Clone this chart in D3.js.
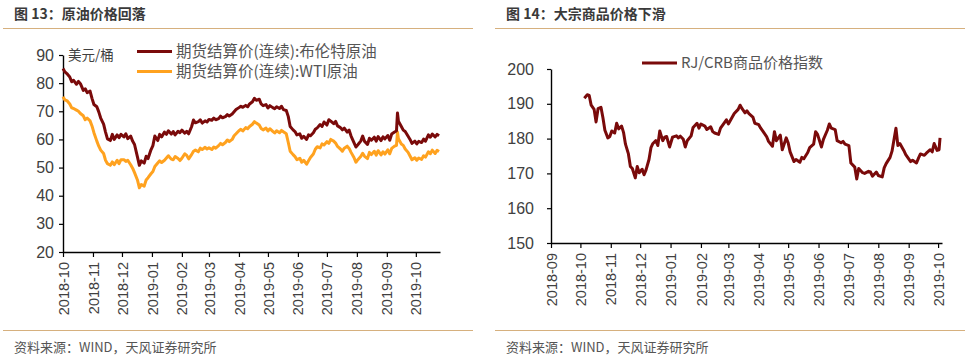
<!DOCTYPE html>
<html><head><meta charset="utf-8">
<script src="https://cdn.jsdelivr.net/npm/d3@7"></script>
<style>
body{margin:0;background:#fff;}
svg{display:block;font-family:"Liberation Sans",Arial,"Noto Sans CJK SC",sans-serif;}
</style>
</head><body>
<svg id="c" width="970" height="361"></svg>
<script>
// ---------- Chart 13 data: crude oil ----------
const oilDates = [
 "2018-10-01","2018-10-03","2018-10-05","2018-10-08","2018-10-10","2018-10-12","2018-10-15","2018-10-17","2018-10-19","2018-10-22","2018-10-24","2018-10-26","2018-10-29","2018-10-31",
 "2018-11-02","2018-11-05","2018-11-07","2018-11-09","2018-11-12","2018-11-14","2018-11-16","2018-11-19","2018-11-21","2018-11-23","2018-11-26","2018-11-28","2018-11-30",
 "2018-12-03","2018-12-05","2018-12-07","2018-12-10","2018-12-12","2018-12-14","2018-12-17","2018-12-19","2018-12-21","2018-12-24","2018-12-26","2018-12-28","2018-12-31",
 "2019-01-02","2019-01-04","2019-01-07","2019-01-09","2019-01-11","2019-01-14","2019-01-16","2019-01-18","2019-01-21","2019-01-23","2019-01-25","2019-01-28","2019-01-30",
 "2019-02-01","2019-02-04","2019-02-06","2019-02-08","2019-02-11","2019-02-13","2019-02-15","2019-02-18","2019-02-20","2019-02-22","2019-02-25","2019-02-27",
 "2019-03-01","2019-03-04","2019-03-06","2019-03-08","2019-03-11","2019-03-13","2019-03-15","2019-03-18","2019-03-20","2019-03-22","2019-03-25","2019-03-27","2019-03-29",
 "2019-04-01","2019-04-03","2019-04-05","2019-04-08","2019-04-10","2019-04-12","2019-04-15","2019-04-17","2019-04-19","2019-04-22","2019-04-24","2019-04-26","2019-04-29",
 "2019-05-01","2019-05-03","2019-05-06","2019-05-08","2019-05-10","2019-05-13","2019-05-15","2019-05-17","2019-05-20","2019-05-22","2019-05-24","2019-05-27","2019-05-29","2019-05-31",
 "2019-06-03","2019-06-05","2019-06-07","2019-06-10","2019-06-12","2019-06-14","2019-06-17","2019-06-19","2019-06-21","2019-06-24","2019-06-26","2019-06-28",
 "2019-07-01","2019-07-03","2019-07-05","2019-07-08","2019-07-10","2019-07-12","2019-07-15","2019-07-17","2019-07-19","2019-07-22","2019-07-24","2019-07-26","2019-07-29","2019-07-31",
 "2019-08-02","2019-08-05","2019-08-07","2019-08-09","2019-08-12","2019-08-14","2019-08-16","2019-08-19","2019-08-21","2019-08-23","2019-08-26","2019-08-28","2019-08-30",
 "2019-09-02","2019-09-04","2019-09-06","2019-09-09","2019-09-11","2019-09-12","2019-09-13","2019-09-16","2019-09-18","2019-09-20","2019-09-23","2019-09-25","2019-09-27","2019-09-30",
 "2019-10-02","2019-10-04","2019-10-07","2019-10-09","2019-10-11","2019-10-14","2019-10-16","2019-10-18","2019-10-21","2019-10-23","2019-10-25"
];
const brentValues = [
 85.2,84.0,83.4,82.2,80.5,81.0,79.6,80.6,79.8,77.4,78.0,76.6,77.2,74.6,
 72.4,71.6,69.8,67.6,65.4,62.6,60.2,59.6,61.8,60.0,61.6,60.6,61.8,
 60.9,62.0,60.3,61.2,59.4,58.2,53.8,50.8,52.4,51.6,54.0,53.2,56.3,
 57.8,61.2,59.6,61.8,60.9,62.6,61.8,63.1,61.9,62.8,61.6,62.9,62.4,
 63.3,62.2,62.9,62.0,64.5,66.9,65.9,66.3,67.0,65.8,66.6,66.2,
 67.1,66.8,67.6,67.0,67.4,68.3,67.7,68.1,68.8,68.3,69.0,69.8,70.6,
 71.3,71.8,71.4,72.1,71.6,72.6,73.4,74.6,73.9,74.3,72.6,72.0,72.4,
 71.2,72.0,71.3,70.9,71.6,71.0,71.8,70.6,70.3,68.2,64.6,63.4,62.8,61.6,
 62.0,60.4,61.1,60.0,61.6,61.3,62.4,63.6,64.1,65.3,64.6,66.2,
 65.1,67.0,66.5,65.6,66.4,64.8,64.2,63.4,64.0,62.6,63.3,61.2,58.9,57.3,
 58.1,59.4,61.2,59.3,58.2,60.4,59.7,60.8,59.4,61.0,59.6,60.9,60.2,
 61.4,59.7,61.9,62.6,63.1,69.4,66.5,64.6,63.3,62.8,61.1,60.0,58.6,59.4,
 58.4,59.3,58.9,60.1,59.4,61.6,60.8,61.9,60.9,61.8,61.3
];
const wtiValues = [
 75.2,74.0,73.8,72.6,71.2,71.0,70.4,70.0,69.2,68.4,67.0,67.6,66.6,64.8,
 62.4,59.4,57.6,56.2,55.0,52.6,51.4,50.8,52.0,51.0,52.6,51.4,52.8,
 52.8,52.2,52.6,51.0,49.8,48.2,45.6,42.8,44.0,43.4,45.6,46.4,47.8,
 48.6,50.4,51.6,52.4,51.8,52.6,53.4,54.2,53.0,52.8,53.9,53.2,52.5,
 53.3,54.9,54.3,53.1,54.6,55.8,56.2,55.6,56.9,56.4,57.2,56.6,
 57.0,56.4,57.3,56.9,57.8,58.6,58.1,58.9,59.8,59.2,60.0,61.3,62.0,
 63.1,63.6,63.0,64.2,63.8,64.6,65.4,66.3,65.8,65.1,63.9,63.4,64.0,
 63.0,63.8,62.9,62.3,63.1,62.4,63.2,62.7,62.0,59.0,55.8,54.6,53.9,52.8,
 53.3,51.9,52.6,51.2,52.4,53.6,54.8,56.5,57.4,57.0,58.4,58.0,
 59.2,58.6,60.0,59.4,58.7,57.5,56.6,55.8,56.9,57.6,56.8,55.4,53.6,51.9,
 52.8,53.9,55.1,54.0,53.2,55.4,54.6,55.8,54.4,56.0,54.5,55.6,54.8,
 56.3,54.9,56.8,57.6,57.9,62.6,60.2,58.4,57.9,56.6,55.4,54.1,52.8,53.5,
 52.6,53.4,52.9,54.2,53.7,55.6,54.9,56.2,55.0,56.1,55.7
];
const oilSeriesNames = ["期货结算价(连续):布伦特原油","期货结算价(连续):WTI原油"];
const oilXTicks = ["2018-10","2018-11","2018-12","2019-01","2019-02","2019-03","2019-04","2019-05","2019-06","2019-07","2019-08","2019-09","2019-10"];
const oilYTicks = [20,30,40,50,60,70,80,90];
const oilUnit = "美元/桶";

// ---------- Chart 14 data: RJ/CRB index ----------
const crbDates = [
 "2018-10-05","2018-10-08","2018-10-10","2018-10-12","2018-10-15","2018-10-17","2018-10-19","2018-10-22","2018-10-24","2018-10-26","2018-10-29","2018-10-31",
 "2018-11-02","2018-11-05","2018-11-07","2018-11-09","2018-11-12","2018-11-14","2018-11-16","2018-11-19","2018-11-21","2018-11-23","2018-11-26","2018-11-28","2018-11-30",
 "2018-12-03","2018-12-05","2018-12-07","2018-12-10","2018-12-12","2018-12-14","2018-12-17","2018-12-19","2018-12-21","2018-12-24","2018-12-26","2018-12-28","2018-12-31",
 "2019-01-03","2019-01-07","2019-01-09","2019-01-11","2019-01-14","2019-01-16","2019-01-18","2019-01-22","2019-01-24","2019-01-28","2019-01-30",
 "2019-02-01","2019-02-05","2019-02-07","2019-02-11","2019-02-13","2019-02-15","2019-02-19","2019-02-21","2019-02-25","2019-02-27",
 "2019-03-01","2019-03-05","2019-03-07","2019-03-11","2019-03-13","2019-03-15","2019-03-18","2019-03-20","2019-03-22","2019-03-26","2019-03-28",
 "2019-04-01","2019-04-03","2019-04-05","2019-04-09","2019-04-11","2019-04-15","2019-04-17","2019-04-19","2019-04-23","2019-04-25","2019-04-29",
 "2019-05-01","2019-05-03","2019-05-07","2019-05-09","2019-05-13","2019-05-15","2019-05-17","2019-05-21","2019-05-23","2019-05-27","2019-05-29","2019-05-31",
 "2019-06-04","2019-06-06","2019-06-10","2019-06-12","2019-06-14","2019-06-18","2019-06-20","2019-06-24","2019-06-26","2019-06-28",
 "2019-07-02","2019-07-04","2019-07-08","2019-07-10","2019-07-12","2019-07-16","2019-07-18","2019-07-22","2019-07-24","2019-07-26","2019-07-30",
 "2019-08-01","2019-08-05","2019-08-07","2019-08-09","2019-08-13","2019-08-15","2019-08-19","2019-08-21","2019-08-23","2019-08-27","2019-08-29",
 "2019-09-03","2019-09-05","2019-09-09","2019-09-11","2019-09-13","2019-09-17","2019-09-19","2019-09-23","2019-09-25","2019-09-27","2019-09-30",
 "2019-10-02","2019-10-03"
];
const crbValues = [
 191.6,192.6,192.4,189.6,188.4,184.8,188.6,189.0,186.0,182.4,180.2,180.6,
 182.2,181.6,184.4,182.8,183.6,181.8,178.4,175.6,172.0,171.4,168.7,172.0,170.2,
 171.2,169.6,171.0,174.0,177.4,178.6,179.4,178.0,182.2,179.4,180.4,180.6,177.6,
 180.4,180.8,180.2,180.7,179.8,177.6,179.4,180.8,183.2,184.4,183.0,
 184.2,183.6,182.6,183.4,182.0,181.6,181.2,183.0,184.6,185.4,
 184.2,186.2,187.2,188.4,189.6,188.6,187.4,188.0,187.2,186.2,184.4,
 184.0,183.0,182.2,180.6,179.2,177.8,182.0,179.4,181.0,176.8,180.2,
 178.8,176.2,173.4,174.0,173.2,174.6,174.2,176.0,177.4,178.4,182.0,181.2,
 177.6,179.8,182.4,184.2,183.0,182.6,179.4,178.8,179.2,178.4,
 178.0,173.0,171.8,168.4,171.4,170.2,170.0,170.6,170.4,169.2,170.4,
 169.4,169.0,171.6,172.8,174.6,176.4,183.0,178.0,178.6,176.6,175.4,
 173.4,173.8,173.0,174.4,175.6,175.2,175.8,176.8,176.2,178.6,176.6,
 176.8,180.2
];
const crbSeriesName = "RJ/CRB商品价格指数";
const crbXTicks = ["2018-09","2018-10","2018-11","2018-12","2019-01","2019-02","2019-03","2019-04","2019-05","2019-06","2019-07","2019-08","2019-09","2019-10"];
const crbYTicks = [150,160,170,180,190,200];

const titles = ["图 13：原油价格回落","图 14：大宗商品价格下滑"];
const sourceText = "资料来源：WIND，天风证券研究所";

// ---------- drawing ----------
const parseDay = d3.timeParse("%Y-%m-%d");
const parseMonth = d3.timeParse("%Y-%m");
const fmtMonth = d3.timeFormat("%Y-%m");
const svg = d3.select("#c");
const cjk = '"Noto Sans CJK SC",sans-serif';
const TXT = "#404040";

function frame(x0, x1, title){
  svg.append("text").attr("x", x0 + 11).attr("y", 14).attr("dy","0.35em")
    .style("font-family", cjk).style("font-weight","bold").style("font-size","14px")
    .attr("fill","#3a3a3a").text(title);
  svg.append("line").attr("x1",x0).attr("x2",x1).attr("y1",28.5).attr("y2",28.5)
    .attr("stroke","#d6b07e").attr("stroke-width",1.2);
  svg.append("line").attr("x1",x0).attr("x2",x1).attr("y1",330.5).attr("y2",330.5)
    .attr("stroke","#d6b07e").attr("stroke-width",1.2);
  svg.append("text").attr("x", x0 + 11).attr("y", 347).attr("dy","0.35em")
    .style("font-family", cjk).style("font-size","13px")
    .attr("fill","#555").text(sourceText);
}

function axes(x, y, xTicks, yTicks, yBase, xBase, yPad){
  const gy = svg.append("g").attr("transform",`translate(${xBase},0)`)
    .call(d3.axisLeft(y).tickValues(yTicks).tickSize(4).tickSizeOuter(0).tickPadding(yPad));
  const gx = svg.append("g").attr("transform",`translate(0,${yBase})`)
    .call(d3.axisBottom(x).tickValues(xTicks.map(parseMonth)).tickFormat(fmtMonth).tickSize(5).tickSizeOuter(0));
  [gx, gy].forEach(g=>{
    g.select(".domain").attr("stroke","#000").attr("stroke-width",1.4);
    g.selectAll(".tick line").attr("stroke","#000").attr("stroke-width",1.2);
    g.selectAll("text").attr("fill",TXT).style("font-family",'"Liberation Sans",Arial,sans-serif');
  });
  gy.selectAll("text").style("font-size","16px");
  gx.selectAll("text").style("font-size","14.5px")
    .attr("transform","rotate(-90)").attr("x",-10).attr("y",0).attr("dy","0.35em")
    .style("text-anchor","end");
}

// Chart 13
frame(3, 473, titles[0]);
const xOil = d3.scaleTime().domain([parseDay("2018-10-01"), parseDay("2019-10-26")]).range([63, 440]);
const yOil = d3.scaleLinear().domain([20, 90]).range([252, 55]);
axes(xOil, yOil, oilXTicks, oilYTicks, 252, 63, 5);
const oilData = oilDates.map((d,i)=>({date:parseDay(d), brent:brentValues[i], wti:wtiValues[i]}));
const lineWti = d3.line().x(d=>xOil(d.date)).y(d=>yOil(d.wti));
const lineBrent = d3.line().x(d=>xOil(d.date)).y(d=>yOil(d.brent));
svg.append("path").datum(oilData).attr("d",lineWti).attr("fill","none")
  .attr("stroke","#ffa21f").attr("stroke-width",3).attr("stroke-linejoin","round");
svg.append("path").datum(oilData).attr("d",lineBrent).attr("fill","none")
  .attr("stroke","#7a0a0a").attr("stroke-width",3).attr("stroke-linejoin","round");
svg.append("text").attr("x",68).attr("y",55).attr("dy","0.35em")
  .style("font-family",cjk).style("font-size","13.5px").attr("fill",TXT).text(oilUnit);
const oilColors = ["#7a0a0a","#ffa21f"];
oilSeriesNames.forEach((n,i)=>{
  const yy = 51.5 + i*20;
  svg.append("line").attr("x1",137).attr("x2",172).attr("y1",yy).attr("y2",yy)
    .attr("stroke",oilColors[i]).attr("stroke-width",3);
  svg.append("text").attr("x",176).attr("y",yy).attr("dy","0.35em")
    .style("font-family",cjk).style("font-size","15.5px").attr("fill","#555").text(n);
});

// Chart 14
frame(495, 965, titles[1]);
const xCrb = d3.scaleTime().domain([parseDay("2018-09-01"), parseDay("2019-10-05")]).range([551, 942]);
const yCrb = d3.scaleLinear().domain([150, 200]).range([243, 69]);
axes(xCrb, yCrb, crbXTicks, crbYTicks, 243, 551, 13);
const crbData = crbDates.map((d,i)=>({date:parseDay(d), v:crbValues[i]}));
svg.append("path").datum(crbData)
  .attr("d", d3.line().x(d=>xCrb(d.date)).y(d=>yCrb(d.v)))
  .attr("fill","none").attr("stroke","#7a0a0a").attr("stroke-width",3).attr("stroke-linejoin","round");
svg.append("line").attr("x1",642).attr("x2",677).attr("y1",63).attr("y2",63)
  .attr("stroke","#7a0a0a").attr("stroke-width",3);
svg.append("text").attr("x",681).attr("y",63).attr("dy","0.35em")
  .style("font-family",cjk).style("font-size","15px").attr("fill","#555").text(crbSeriesName);
</script>
</body></html>
